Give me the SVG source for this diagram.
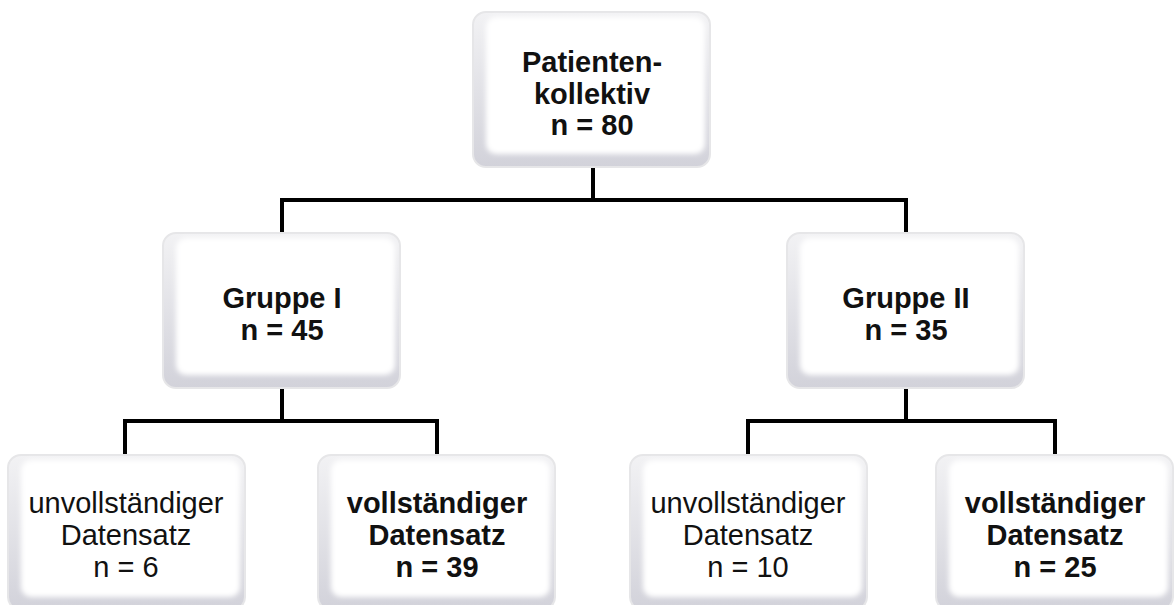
<svg xmlns="http://www.w3.org/2000/svg" width="1176" height="605" viewBox="0 0 1176 605">
<defs>
<linearGradient id="edge" x1="0" y1="0" x2="0" y2="1">
<stop offset="0" stop-color="#f2f2f4"/>
<stop offset="1" stop-color="#d2d2da"/>
</linearGradient>
<filter id="soft" x="-5%" y="-5%" width="110%" height="110%">
<feGaussianBlur stdDeviation="2.5"/>
</filter>
<g id="box">
<rect x="0" y="0" width="237" height="155" rx="13" fill="url(#edge)" stroke="#e6e6e8" stroke-width="2"/>
<rect x="13" y="5" width="219" height="137" rx="10" fill="#ffffff" filter="url(#soft)"/>
</g>
</defs>
<style>
.b{font-family:"Liberation Sans",Arial,sans-serif;font-size:29px;font-weight:bold;fill:#111;text-anchor:middle}
.r{font-family:"Liberation Sans",Arial,sans-serif;font-size:29px;fill:#111;text-anchor:middle}
.c{fill:none;stroke:#000;stroke-width:4}
</style>
<rect width="1176" height="605" fill="#fff"/>
<g id="connectors">
<path class="c" d="M593 167V200M282 200H906M282 198V233M906 198V233"/>
<path class="c" d="M282 388V421M125 421H437M125 419V455M437 419V455"/>
<path class="c" d="M906 388V421M748 421H1055M748 419V455M1055 419V455"/>
</g>
<g id="n-root">
<use href="#box" x="473" y="12"/>
<text class="b" x="592" y="72">Patienten-</text>
<text class="b" x="592" y="104">kollektiv</text>
<text class="b" x="592" y="135">n = 80</text>
</g>
<g id="n-g1">
<use href="#box" x="163" y="233"/>
<text class="b" x="282" y="308">Gruppe I</text>
<text class="b" x="282" y="340">n = 45</text>
</g>
<g id="n-g2">
<use href="#box" x="787" y="233"/>
<text class="b" x="906" y="308">Gruppe II</text>
<text class="b" x="906" y="340">n = 35</text>
</g>
<g id="n-g1a">
<use href="#box" x="8" y="455"/>
<text class="r" x="126" y="513">unvollständiger</text>
<text class="r" x="126" y="545">Datensatz</text>
<text class="r" x="126" y="577">n = 6</text>
</g>
<g id="n-g1b">
<use href="#box" x="318" y="455"/>
<text class="b" x="437" y="513">vollständiger</text>
<text class="b" x="437" y="545">Datensatz</text>
<text class="b" x="437" y="577">n = 39</text>
</g>
<g id="n-g2a">
<use href="#box" x="630" y="455"/>
<text class="r" x="748" y="513">unvollständiger</text>
<text class="r" x="748" y="545">Datensatz</text>
<text class="r" x="748" y="577">n = 10</text>
</g>
<g id="n-g2b">
<use href="#box" x="936" y="455"/>
<text class="b" x="1055" y="513">vollständiger</text>
<text class="b" x="1055" y="545">Datensatz</text>
<text class="b" x="1055" y="577">n = 25</text>
</g>
</svg>
